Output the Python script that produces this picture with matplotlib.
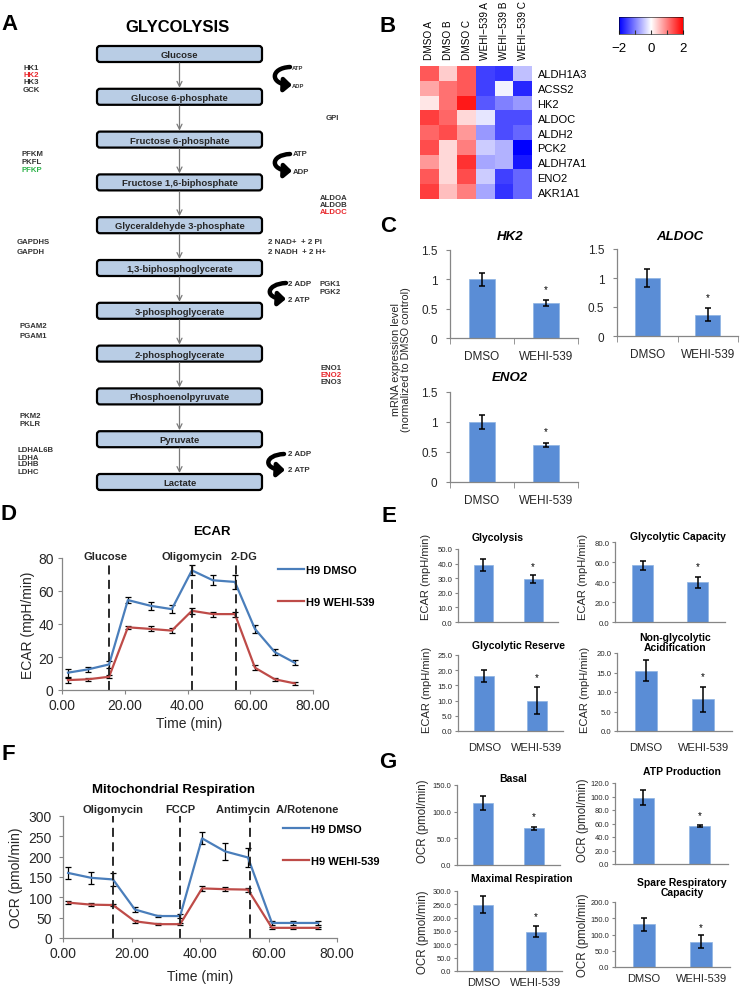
import numpy as np
import matplotlib
matplotlib.use('Agg')
import matplotlib.pyplot as plt
from matplotlib.patches import FancyBboxPatch, FancyArrowPatch
from matplotlib.path import Path
from matplotlib.colors import LinearSegmentedColormap, Normalize
from matplotlib.cm import ScalarMappable
from matplotlib.ticker import FormatStrFormatter

plt.rcParams['font.family'] = ['Liberation Sans', 'DejaVu Sans']

# ---------------- data ----------------
# A: glycolysis pathway
metabolites = ['Glucose', 'Glucose 6-phosphate', 'Fructose 6-phosphate', 'Fructose 1,6-biphosphate',
               'Glyceraldehyde 3-phosphate', '1,3-biphosphoglycerate', '3-phosphoglycerate',
               '2-phosphoglycerate', 'Phosphoenolpyruvate', 'Pyruvate', 'Lactate']
enzymes = [['HK1', 'HK2', 'HK3', 'GCK'], ['GPI'], ['PFKM', 'PKFL', 'PFKP'], ['ALDOA', 'ALDOB', 'ALDOC'],
           ['GAPDHS', 'GAPDH'], ['PGK1', 'PGK2'], ['PGAM2', 'PGAM1'], ['ENO1', 'ENO2', 'ENO3'],
           ['PKM2', 'PKLR'], ['LDHAL6B', 'LDHA', 'LDHB', 'LDHC']]
red_genes = ['HK2', 'ALDOC', 'ENO2']
green_genes = ['PFKP']
cofactors = [('ATP', 'ADP'), ('ATP', 'ADP'), ('2 ADP', '2 ATP'), ('2 ADP', '2 ATP')]
redox = ['2 NAD+  + 2 Pi', '2 NADH  + 2 H+']

# B: heatmap (row z-scores)
hm_genes = ['ALDH1A3', 'ACSS2', 'HK2', 'ALDOC', 'ALDH2', 'PCK2', 'ALDH7A1', 'ENO2', 'AKR1A1']
hm_samples = ['DMSO A', 'DMSO B', 'DMSO C', 'WEHI\u2212539 A', 'WEHI\u2212539 B', 'WEHI\u2212539 C']
hm_z = [[1.3, 0.4, 1.3, -1.5, -1.6, -0.5],
        [0.7, 1.1, 1.3, -1.5, -0.1, -1.7],
        [0.2, 1.1, 1.8, -1.3, -1.0, -0.8],
        [1.5, 1.2, 0.3, -0.2, -1.4, -1.4],
        [1.2, 1.4, 0.8, -0.8, -1.4, -1.2],
        [1.4, 0.3, 1.0, -0.4, -0.6, -2.0],
        [0.8, 0.3, 1.6, -0.7, -0.6, -1.8],
        [1.3, 0.3, 1.4, -0.4, -1.5, -1.2],
        [1.5, 0.5, 1.0, -0.7, -1.6, -1.2]]

# C: qPCR
groups = ['DMSO', 'WEHI-539']
qpcr_genes = ['HK2', 'ALDOC', 'ENO2']
qpcr_dmso = [1.0, 1.0, 1.0]
qpcr_dmso_err = [0.11, 0.15, 0.12]
qpcr_wehi = [0.59, 0.37, 0.62]
qpcr_wehi_err = [0.05, 0.11, 0.03]

# D: ECAR time course
ecar_time = [1.9, 8.3, 15.0, 21.0, 28.3, 35.0, 41.4, 48.1, 55.1, 61.5, 67.8, 74.2]
ecar_dmso = [10.5, 12.5, 15.5, 54.5, 51.0, 49.0, 72.5, 66.5, 65.5, 37.0, 23.0, 16.5]
ecar_dmso_err = [2.5, 1.5, 2.0, 2.0, 2.5, 2.5, 3.0, 3.0, 4.0, 2.5, 2.0, 1.5]
ecar_wehi = [6.0, 6.5, 8.0, 38.0, 37.0, 36.0, 48.0, 46.0, 46.0, 13.5, 6.5, 4.0]
ecar_wehi_err = [1.5, 1.0, 1.0, 1.0, 1.5, 1.5, 2.0, 1.5, 1.5, 1.5, 1.0, 1.0]
ecar_inject = ['Glucose', 'Oligomycin', '2-DG']
ecar_inject_t = [15.0, 41.4, 55.4]

# E: glycolytic parameters
glyco_names = ['Glycolysis', 'Glycolytic Capacity', 'Glycolytic Reserve', 'Non-glycolytic\nAcidification']
glyco_dmso = [39.0, 57.0, 18.0, 15.5]
glyco_dmso_err = [4.0, 4.5, 2.0, 2.8]
glyco_wehi = [29.5, 40.0, 10.0, 8.2]
glyco_wehi_err = [2.5, 5.5, 4.5, 3.2]
glyco_ymax = [50, 80, 25, 20]
glyco_ystep = [10, 20, 5, 5]

# F: OCR time course
ocr_time = [1.5, 8.2, 14.6, 21.0, 27.7, 34.2, 40.6, 47.3, 54.0, 61.0, 67.2, 74.5]
ocr_dmso = [160, 148, 144, 70, 54, 54, 245, 213, 198, 37, 37, 37]
ocr_dmso_err = [14, 15, 15, 7, 3, 5, 15, 20, 23, 5, 5, 5]
ocr_wehi = [87, 82, 81, 41, 34, 34, 122, 120, 119, 25, 25, 25]
ocr_wehi_err = [3, 3, 3, 3, 2, 2, 7, 5, 5, 2, 2, 2]
ocr_inject = ['Oligomycin', 'FCCP', 'Antimycin  A/Rotenone']
ocr_inject_t = [14.6, 34.2, 54.6]

# G: mitochondrial parameters
mito_names = ['Basal', 'ATP Production', 'Maximal Respiration', 'Spare Respiratory\nCapacity']
mito_dmso = [117, 98, 249, 131]
mito_dmso_err = [13, 11, 33, 20]
mito_wehi = [69, 56, 147, 77]
mito_wehi_err = [3, 1.5, 20, 20]
mito_ymax = [150, 120, 300, 200]
mito_ystep = [50, 20, 50, 50]

# ---------------- style ----------------
BAR = '#5A8DD6'
BLUE = '#4A7EBB'
RED = '#BE4B48'
AXIS = '#868686'
TXT = '#262626'

W, H = 740, 987
fig = plt.figure(figsize=(W / 100, H / 100), dpi=100)


def px_axes(l, t, r, b):
    return fig.add_axes([l / W, 1 - b / H, (r - l) / W, (b - t) / H])


def ftext(x, y, s, **kw):
    kw.setdefault('ha', 'center')
    kw.setdefault('va', 'center')
    fig.text(x / W, 1 - y / H, s, **kw)


# panel letters
for letter, (lx, ly) in zip('ABCDEFG', [(9, 25), (388, 27), (388, 227), (9, 515),
                                         (389, 517), (8, 755), (388, 762)]):
    ftext(lx, ly, letter, fontsize=16, weight='bold')

# ---------------- A ----------------
axA = px_axes(0, 0, 370, 500)
axA.set_xlim(0, 370)
axA.set_ylim(500, 0)
axA.axis('off')
ftext(178, 28, 'GLYCOLYSIS', fontsize=12, weight='bold')
box_l, box_r, box_h = 97, 262, 16
y0, dy = 55, 42.8
mid = (box_l + box_r) / 2
for i, name in enumerate(metabolites):
    yc = y0 + i * dy
    axA.add_patch(FancyBboxPatch((box_l, yc - box_h / 2), box_r - box_l, box_h,
                                 boxstyle='round,pad=0,rounding_size=3',
                                 fc='#B9CDE5', ec='black', lw=1.6))
    axA.text(mid, yc + 0.5, name, ha='center', va='center', fontsize=6.8, weight='bold', color=TXT)
    if i < len(metabolites) - 1:
        axA.annotate('', xy=(mid, yc + dy - box_h / 2 - 1), xytext=(mid, yc + box_h / 2 + 1),
                     arrowprops=dict(arrowstyle='->', color='#7a7a7a', lw=0.9,
                                     shrinkA=0, shrinkB=0, mutation_scale=9))

enz_layout = [(31, 68, 7.5, 'center'), (332, 119, 7.5, 'center'), (22, 155, 7.5, 'left'),
              (348, 198, 7.5, 'right'), (17, 243, 10, 'left'), (320, 284, 8, 'left'),
              (20, 326, 10, 'left'), (331, 368, 7.5, 'center'), (19, 416, 8, 'left'),
              (18, 451, 7, 'left')]
for genes, (ex, ey, step, ha) in zip(enzymes, enz_layout):
    for k, g in enumerate(genes):
        col = '#E8262B' if g in red_genes else ('#2DB34A' if g in green_genes else '#333333')
        axA.text(ex, ey + k * step, g, ha=ha, va='center', fontsize=5.6, weight='bold', color=col)

# curved cofactor arrows: (top end, bottom end, bulge, label x, label size)
co_layout = [((290, 68), (292, 86), 20, 292, 4.2), ((290, 155), (292, 172), 20, 293, 5.6),
             ((286, 284), (286, 300), 20, 288, 5.8), ((284, 455), (285, 471), 20, 288, 5.8)]
for (top_lab, bot_lab), (pa, pb, bulge, lx, fs) in zip(cofactors, co_layout):
    curve = Path([pa, (pa[0] - bulge, pa[1] + 1), (pb[0] - bulge - 2, pb[1] - 1), pb],
                 [Path.MOVETO, Path.CURVE4, Path.CURVE4, Path.CURVE4])
    axA.add_patch(FancyArrowPatch(path=curve, arrowstyle='-|>,head_length=0.55,head_width=0.5',
                                  mutation_scale=8, lw=3.2, color='black', shrinkA=0, shrinkB=0))
    axA.text(lx, pa[1], top_lab, ha='left', va='center', fontsize=fs, weight='bold', color='#333333')
    axA.text(lx, pb[1], bot_lab, ha='left', va='center', fontsize=fs, weight='bold', color='#333333')
for k, s in enumerate(redox):
    axA.text(268, 243 + k * 10, s, ha='left', va='center', fontsize=5.8, weight='bold', color='#333333')

# ---------------- B ----------------
cmap = LinearSegmentedColormap.from_list('bwr2', ['#0000FF', '#FFFFFF', '#FF0000'])
axh = px_axes(420, 67, 532, 200)
axh.imshow(hm_z, cmap=cmap, vmin=-2, vmax=2, aspect='auto', interpolation='nearest')
axh.set_xticks(range(len(hm_samples)))
axh.set_xticklabels(hm_samples, rotation=90, fontsize=7.2)
axh.xaxis.tick_top()
axh.set_yticks(range(len(hm_genes)))
axh.set_yticklabels(hm_genes, fontsize=8)
axh.yaxis.tick_right()
axh.tick_params(length=0)
axh.tick_params(axis='x', pad=5)
axh.tick_params(axis='y', pad=4)
for s in axh.spines.values():
    s.set_visible(False)

axc = px_axes(619, 18, 683, 35)
cb = fig.colorbar(ScalarMappable(norm=Normalize(-2, 2), cmap=cmap), cax=axc, orientation='horizontal')
cb.set_ticks([-2, -1, 0, 1, 2])
cb.set_ticklabels(['\u22122', '', '0', '', '2'])
axc.tick_params(direction='in', length=3, width=0.8, labelsize=9.5, pad=6, color='#333333')
cb.outline.set_linewidth(0.4)


# ---------------- bar chart helper ----------------
def bar_panel(box, vals, errs, ymax, ystep, fmt, tick_fs, tick_pad, width, xlab_fs=None, xlab_pad=8,
              cat_ticks=False, star_fs=7):
    ax = px_axes(*box)
    ax.bar([0, 1], vals, width=width, color=BAR, edgecolor='#8DB3E2', linewidth=0.5,
           yerr=errs, error_kw=dict(ecolor='black', elinewidth=1.1, capsize=2.5, capthick=1.1))
    ax.set_xlim(-0.5, 1.5)
    ax.set_ylim(0, ymax)
    ax.set_yticks(np.arange(0, ymax + ystep / 2, ystep))
    ax.yaxis.set_major_formatter(FormatStrFormatter(fmt))
    for s in ['top', 'right']:
        ax.spines[s].set_visible(False)
    for s in ['left', 'bottom']:
        ax.spines[s].set_color(AXIS)
        ax.spines[s].set_linewidth(0.9)
    ax.tick_params(axis='y', labelsize=tick_fs, pad=tick_pad, length=3 if cat_ticks else 2,
                   color=AXIS, labelcolor=TXT)
    ax.set_xticks([0, 1])
    if xlab_fs:
        ax.set_xticklabels(groups, fontsize=xlab_fs, color=TXT)
    else:
        ax.set_xticklabels(['', ''])
    ax.tick_params(axis='x', length=0, pad=xlab_pad)
    if cat_ticks:
        ax.set_xticks([-0.5, 0.5, 1.5], minor=True)
        ax.tick_params(axis='x', which='minor', length=4, color=AXIS)
    ax.text(1, vals[1] + errs[1] + 0.13 * ymax, '*', ha='center', va='center', fontsize=star_fs)
    return ax


# ---------------- C ----------------
c_boxes = [(450, 251, 578, 339), (617, 250, 738, 337), (450, 393, 578, 483)]
c_titles = [(510, 237), (680, 237), (510, 378)]
for i, g in enumerate(qpcr_genes):
    bar_panel(c_boxes[i], [qpcr_dmso[i], qpcr_wehi[i]], [qpcr_dmso_err[i], qpcr_wehi_err[i]],
              1.5, 0.5, '%g', 8.5, 6, 0.42, xlab_fs=8.5, xlab_pad=9, cat_ticks=True)
    ftext(*c_titles[i], g, fontsize=9.5, weight='bold', style='italic')
ftext(401, 360, 'mRNA expression level\n(normalized to DMSO control)', fontsize=7.8, rotation=90,
      linespacing=1.0, color=TXT)

# ---------------- E ----------------
e_boxes = [(458, 550, 558, 623), (615, 543, 725, 623), (458, 656, 563, 732), (617, 654, 732, 732)]
e_titles = [(498, 538), (678, 537), (518, 646), (675, 643)]
e_ylab = [(426, 577), (583, 577), (427, 690), (585, 690)]
for i, name in enumerate(glyco_names):
    bar_panel(e_boxes[i], [glyco_dmso[i], glyco_wehi[i]], [glyco_dmso_err[i], glyco_wehi_err[i]],
              glyco_ymax[i], glyco_ystep[i], '%.1f', 5.6, 2, 0.38,
              xlab_fs=8 if i >= 2 else None, xlab_pad=8)
    ftext(*e_titles[i], name, fontsize=7.5, weight='bold', linespacing=1.05)
    ftext(*e_ylab[i], 'ECAR (mpH/min)', fontsize=8, rotation=90, color=TXT)

# ---------------- G ----------------
g_boxes = [(457, 786, 560, 866), (615, 784, 728, 865), (457, 892, 562, 972), (615, 903, 730, 968)]
g_titles = [(513, 779), (682, 772), (522, 879), (682, 888)]
g_ylab = [(423, 821), (583, 820), (423, 932), (583, 935)]
for i, name in enumerate(mito_names):
    bar_panel(g_boxes[i], [mito_dmso[i], mito_wehi[i]], [mito_dmso_err[i], mito_wehi_err[i]],
              mito_ymax[i], mito_ystep[i], '%.1f', 5.4, 2, 0.38,
              xlab_fs=8 if i >= 2 else None, xlab_pad=4)
    ftext(*g_titles[i], name, fontsize=7.5, weight='bold', linespacing=1.05)
    ftext(*g_ylab[i], 'OCR (pmol/min)', fontsize=8.3, rotation=90, color=TXT)


# ---------------- D / F line charts ----------------
def line_panel(box, t, d, de, w, we, ymax, ystep, inject, inject_t, label_y, line_top, label_dx,
               legend_xy, ypad):
    ax = px_axes(*box)
    ax.errorbar(t, d, yerr=de, fmt='none', ecolor='black', elinewidth=0.9, capsize=2, capthick=0.9)
    ax.errorbar(t, w, yerr=we, fmt='none', ecolor='black', elinewidth=0.9, capsize=2, capthick=0.9)
    ax.plot(t, d, color=BLUE, lw=1.6, label='H9 DMSO')
    ax.plot(t, w, color=RED, lw=1.6, label='H9 WEHI-539')
    ax.set_xlim(0, 80)
    ax.set_ylim(0, ymax)
    ax.set_xticks(np.arange(0, 81, 20))
    ax.set_yticks(np.arange(0, ymax + 1, ystep))
    ax.xaxis.set_major_formatter(FormatStrFormatter('%.2f'))
    for s in ['top', 'right']:
        ax.spines[s].set_visible(False)
    for s in ['left', 'bottom']:
        ax.spines[s].set_color(AXIS)
        ax.spines[s].set_linewidth(0.9)
    ax.tick_params(axis='both', labelsize=10, length=3, color=AXIS, labelcolor=TXT)
    ax.tick_params(axis='y', pad=ypad)
    ax.tick_params(axis='x', pad=3)
    ax.vlines(inject_t, 0, line_top, colors='#1a1a1a', linestyles=(0, (5, 3)), lw=1.3)
    for name, x, ddx in zip(inject, inject_t, label_dx):
        ax.text(x + ddx, label_y, name, ha='center', va='center', fontsize=8, weight='bold', color=TXT)
    ax.legend(loc='upper left', bbox_to_anchor=(legend_xy[0] / W, 1 - legend_xy[1] / H),
              bbox_transform=fig.transFigure, frameon=False, prop=dict(size=8, weight='bold'),
              handlelength=2.3, handletextpad=0.2, labelspacing=2.0, borderpad=0, borderaxespad=0)
    return ax


line_panel((62, 559, 313, 691), ecar_time, ecar_dmso, ecar_dmso_err, ecar_wehi, ecar_wehi_err,
           80, 20, ecar_inject, ecar_inject_t, 81.5, 76, [-1, 0, 2.5], (278, 566), 3)
ftext(212, 532, 'ECAR', fontsize=9.5, weight='bold')
ftext(28, 625, 'ECAR (mpH/min)', fontsize=10, rotation=90, color=TXT)
ftext(189, 724, 'Time (min)', fontsize=10, color=TXT)

line_panel((63, 817, 337, 939), ocr_time, ocr_dmso, ocr_dmso_err, ocr_wehi, ocr_wehi_err,
           300, 50, ocr_inject, ocr_inject_t, 317, 300, [0, 0, 8], (283, 825), 5)
ftext(173, 790, 'Mitochondrial Respiration', fontsize=9.5, weight='bold')
ftext(16, 878, 'OCR (pmol/min)', fontsize=10, rotation=90, color=TXT)
ftext(200, 977, 'Time (min)', fontsize=10, color=TXT)

fig.savefig('out.png', dpi=100)
